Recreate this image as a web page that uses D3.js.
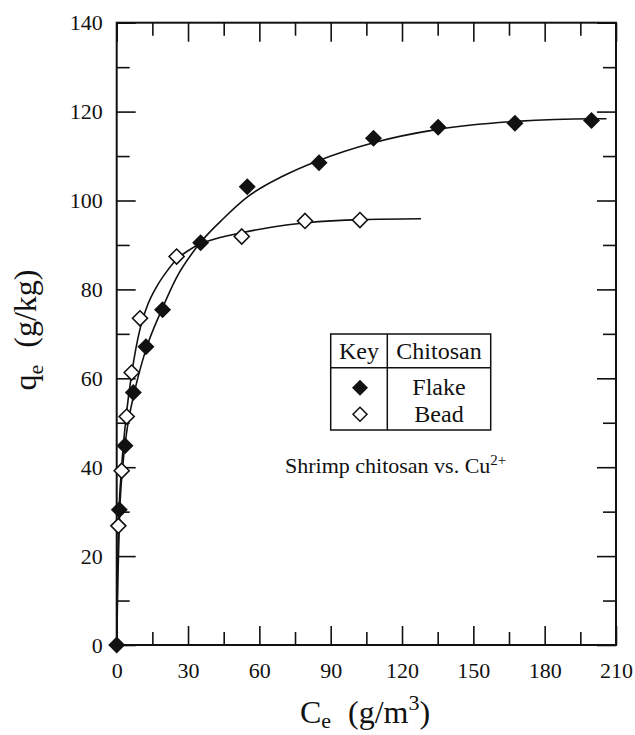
<!DOCTYPE html>
<html>
<head>
<meta charset="utf-8">
<script src="https://cdn.jsdelivr.net/npm/d3@7"></script>
<style>
  body { margin: 0; background: #fff; }
  text { font-family: "Liberation Serif", "DejaVu Serif", serif; fill: #111; }
</style>
</head>
<body>
<div id="chart"></div>
<script>
// Measured points (Ce in g/m3, qe in g/kg)
const flakeCe = [0, 1.1, 3.5, 7.0, 12.3, 19.3, 35.3, 54.9, 85.1, 108, 135.2, 167.5, 199.7];
const flakeQe = [0, 30.4, 44.8, 56.8, 67.1, 75.4, 90.5, 103.1, 108.5, 114, 116.5, 117.4, 118.0];
const beadCe = [0.7, 2.1, 4.2, 6.3, 9.8, 25.2, 52.6, 79.2, 102.3];
const beadQe = [26.8, 39.2, 51.4, 61.3, 73.5, 87.4, 91.9, 95.4, 95.6];

// Fitted curves
const flakeFitCe = [0, 0.5, 1.2, 2.5, 4.5, 7.5, 12, 19, 25, 35, 45, 55, 70, 85, 108, 135, 168, 200, 206];
const flakeFitQe = [0, 15, 29, 40, 49, 57, 66, 75.5, 82.5, 90.4, 96.0, 100.8, 105.5, 109.0, 113.0, 116.0, 117.8, 118.4, 118.4];
const beadFitCe = [0, 0.3, 0.8, 2.0, 4.0, 6.3, 8, 10, 13, 17, 21, 25, 30, 35, 43, 52, 65, 80, 103, 128];
const beadFitQe = [0, 14, 27, 39.5, 51.5, 61, 66.5, 71.5, 76.5, 80.8, 84, 86.6, 88.7, 90.2, 91.6, 92.7, 94, 95, 95.7, 95.9];

const xMajor = [0, 30, 60, 90, 120, 150, 180, 210];
const xMinor = [15, 45, 75, 105, 135, 165, 195];
const yMajor = [0, 20, 40, 60, 80, 100, 120, 140];
const yMinor = [10, 30, 50, 70, 90, 110, 130];

const legendRows = [
    { label: 'Flake', filled: true },
    { label: 'Bead', filled: false }
];

const W = 635, H = 735;
const margin = { left: 116.7, top: 22.7, right: 19, bottom: 90 };
const iw = W - margin.left - margin.right;
const ih = H - margin.top - margin.bottom;

const svg = d3.select('#chart').append('svg')
    .attr('width', W)
    .attr('height', H);

const g = svg.append('g')
    .attr('transform', `translate(${margin.left},${margin.top})`);

const x = d3.scaleLinear().domain([0, 210]).range([0, iw]);
const y = d3.scaleLinear().domain([0, 140]).range([ih, 0]);

// axes: major and minor ticks pointing inward
function addAxis(gen, scale, ticks, size, pad, fmt, tr) {
    const a = g.append('g')
        .attr('transform', tr)
        .call(gen(scale).tickValues(ticks).tickSizeInner(-size).tickSizeOuter(0)
            .tickPadding(pad).tickFormat(fmt));
    a.attr('font-family', null);
    a.select('.domain').remove();
    a.selectAll('line').attr('stroke', '#111').attr('stroke-width', 1.6);
    a.selectAll('text').attr('font-size', 22).attr('fill', '#111');
    return a;
}
const noLabel = () => '';
addAxis(d3.axisBottom, x, xMajor, 19, 17, d3.format('d'), `translate(0,${ih})`);
addAxis(d3.axisBottom, x, xMinor, 13, 0, noLabel, `translate(0,${ih})`);
addAxis(d3.axisTop, x, xMajor, 19, 0, noLabel, 'translate(0,0)');
addAxis(d3.axisTop, x, xMinor, 13, 0, noLabel, 'translate(0,0)');
addAxis(d3.axisLeft, y, yMajor, 19, 14, d3.format('d'), 'translate(0,0)');
addAxis(d3.axisLeft, y, yMinor, 13, 0, noLabel, 'translate(0,0)');
addAxis(d3.axisRight, y, yMajor, 19, 0, noLabel, `translate(${iw},0)`);
addAxis(d3.axisRight, y, yMinor, 13, 0, noLabel, `translate(${iw},0)`);

// frame
g.append('rect')
    .attr('width', iw)
    .attr('height', ih)
    .attr('fill', 'none')
    .attr('stroke', '#111')
    .attr('stroke-width', 2);

// fitted curves
const line = d3.line()
    .x(d => x(d[0]))
    .y(d => y(d[1]))
    .curve(d3.curveMonotoneX);

g.append('path')
    .datum(d3.zip(flakeFitCe, flakeFitQe))
    .attr('d', line)
    .attr('fill', 'none')
    .attr('stroke', '#111')
    .attr('stroke-width', 1.6);

g.append('path')
    .datum(d3.zip(beadFitCe, beadFitQe))
    .attr('d', line)
    .attr('fill', 'none')
    .attr('stroke', '#111')
    .attr('stroke-width', 1.6);

// diamond markers
const diamond = (r) => `M0,${-r}L${r},0L0,${r}L${-r},0Z`;

g.selectAll('.bead')
    .data(d3.zip(beadCe, beadQe))
    .enter()
    .append('path')
    .attr('class', 'bead')
    .attr('d', diamond(7.5))
    .attr('transform', d => `translate(${x(d[0])},${y(d[1])})`)
    .attr('fill', '#fff')
    .attr('stroke', '#111')
    .attr('stroke-width', 1.6);

g.selectAll('.flake')
    .data(d3.zip(flakeCe, flakeQe))
    .enter()
    .append('path')
    .attr('class', 'flake')
    .attr('d', diamond(8.5))
    .attr('transform', d => `translate(${x(d[0])},${y(d[1])})`)
    .attr('fill', '#111');

// legend table
const lg = svg.append('g').attr('transform', 'translate(330.7,334)');
const lw = 160, lh = 96, colX = 56.6, rowY = 33.7;
lg.append('rect').attr('width', lw).attr('height', lh)
    .attr('fill', '#fff').attr('stroke', '#111').attr('stroke-width', 1.5);
lg.append('line').attr('x1', colX).attr('x2', colX).attr('y1', 0).attr('y2', lh)
    .attr('stroke', '#111').attr('stroke-width', 1.5);
lg.append('line').attr('x1', 0).attr('x2', lw).attr('y1', rowY).attr('y2', rowY)
    .attr('stroke', '#111').attr('stroke-width', 1.5);
lg.append('text').attr('x', colX / 2).attr('y', 24.5).attr('text-anchor', 'middle')
    .attr('font-size', 24).text('Key');
lg.append('text').attr('x', (colX + lw) / 2).attr('y', 24.5).attr('text-anchor', 'middle')
    .attr('font-size', 24).text('Chitosan');

legendRows.forEach((r, i) => {
    const cy = 53.7 + i * 26.6;
    lg.append('path')
        .attr('d', diamond(r.filled ? 8 : 7))
        .attr('transform', `translate(${colX / 2 + 1},${cy})`)
        .attr('fill', r.filled ? '#111' : '#fff')
        .attr('stroke', '#111')
        .attr('stroke-width', r.filled ? 0 : 1.5);
    lg.append('text').attr('x', (colX + lw) / 2).attr('y', cy + 7.5)
        .attr('text-anchor', 'middle').attr('font-size', 24).text(r.label);
});

// annotation
const ann = svg.append('text')
    .attr('x', 285).attr('y', 473)
    .attr('font-size', 22);
ann.append('tspan').text('Shrimp chitosan vs. Cu');
ann.append('tspan').attr('font-size', 15).attr('dy', -8).text('2+');

// axis titles
const xt = svg.append('text')
    .attr('x', 365).attr('y', 723)
    .attr('text-anchor', 'middle')
    .attr('font-size', 32);
xt.append('tspan').text('C');
xt.append('tspan').attr('font-size', 22).attr('dy', 5).text('e');
xt.append('tspan').attr('dx', 17).attr('dy', -5).text('(g/m');
xt.append('tspan').attr('font-size', 22).attr('dy', -13).text('3');
xt.append('tspan').attr('dy', 13).text(')');

const yt = svg.append('text')
    .attr('transform', 'translate(36,330) rotate(-90)')
    .attr('text-anchor', 'middle')
    .attr('font-size', 32);
yt.append('tspan').text('q');
yt.append('tspan').attr('font-size', 22).attr('dy', 7).text('e');
yt.append('tspan').attr('dx', 17).attr('dy', -7).text('(g/kg)');
</script>
</body>
</html>
